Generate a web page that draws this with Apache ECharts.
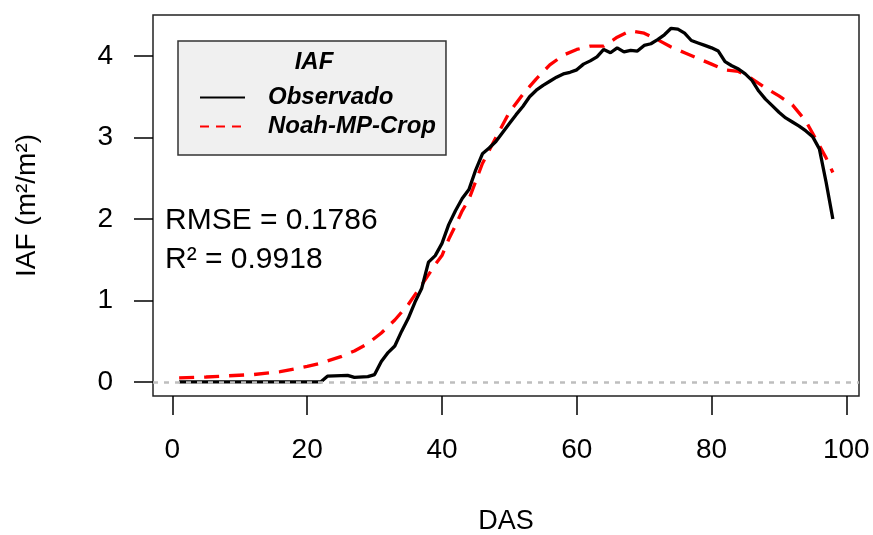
<!DOCTYPE html>
<html>
<head>
<meta charset="utf-8">
<script src="https://cdn.jsdelivr.net/npm/echarts@6/dist/echarts.min.js"></script>
<style>
  html, body { margin: 0; padding: 0; background: #fff; }
  #chart { width: 873px; height: 535px; }
</style>
</head>
<body>
<div id="chart"></div>
<script>
// dias apos semeadura (DAS) e IAF observado
var obs_days = [1, 22, 23, 26, 27, 29, 30, 31, 32, 33, 34, 35, 36, 37, 38, 39, 40, 41, 42, 43, 44, 45, 46, 47, 48, 49,
    50, 51, 52, 53, 54, 55, 56, 57, 58, 59, 60, 61, 62, 63, 64, 65, 66, 67, 68, 69, 70, 71, 72, 73, 74, 75, 76, 77,
    78, 79, 80, 81, 82, 83, 84, 85, 86, 87, 88, 89, 90, 91, 92, 93, 94, 95, 96, 97, 98];
var obs_vals = [0, 0, 0.07, 0.08, 0.055, 0.065, 0.09, 0.25, 0.36, 0.44, 0.62, 0.78, 0.98, 1.15, 1.47, 1.55, 1.7, 1.93,
    2.1, 2.25, 2.36, 2.6, 2.8, 2.87, 2.95, 3.06, 3.17, 3.28, 3.38, 3.5, 3.58, 3.64, 3.69, 3.74, 3.78, 3.8, 3.83, 3.9,
    3.94, 3.99, 4.08, 4.04, 4.1, 4.05, 4.07, 4.06, 4.13, 4.15, 4.2, 4.26, 4.34, 4.33, 4.28, 4.19, 4.16, 4.13, 4.1,
    4.06, 3.93, 3.88, 3.84, 3.78, 3.7, 3.57, 3.47, 3.39, 3.31, 3.24, 3.19, 3.14, 3.08, 3.01, 2.86, 2.45, 2.0];
// Noah-MP-Crop
var sim_days = [1, 5, 8, 12, 16, 20, 22, 25, 27, 29, 31, 32, 33, 35, 37, 39, 40, 41, 42, 43, 44, 46, 48, 50, 52, 54,
    56, 58, 60, 62, 64, 66, 68, 70, 72, 74, 76, 78, 80, 82, 84, 86, 88, 90, 92, 94, 95, 96, 97, 98];
var sim_vals = [0.05, 0.06, 0.074, 0.09, 0.125, 0.19, 0.23, 0.31, 0.38, 0.47, 0.6, 0.68, 0.76, 0.95, 1.19, 1.44, 1.55,
    1.75, 1.92, 2.1, 2.24, 2.68, 3.0, 3.31, 3.53, 3.72, 3.89, 4.01, 4.08, 4.12, 4.12, 4.23, 4.31, 4.28, 4.2, 4.11,
    4.04, 3.97, 3.9, 3.83, 3.81, 3.72, 3.61, 3.51, 3.4, 3.2, 3.05, 2.9, 2.75, 2.57];
var x_ticks = [0, 20, 40, 60, 80, 100];
var y_ticks = [0, 1, 2, 3, 4];

function pairs(xs, ys) {
    var out = [];
    for (var i = 0; i < xs.length; i++) out.push([xs[i], ys[i]]);
    return out;
}

var font = 'Liberation Sans, Arial, Helvetica, sans-serif';
var chart = echarts.init(document.getElementById('chart'), null, {renderer: 'canvas'});

var option = {
    animation: false,
    textStyle: {fontFamily: font, color: '#000'},
    grid: {
        left: 153, top: 15, width: 706, height: 381,
        outerBoundsMode: 'none', containLabel: false,
        show: true, borderColor: '#222', borderWidth: 1.5, backgroundColor: 'transparent'
    },
    xAxis: {
        type: 'value', min: -2.88, max: 101.88,
        name: 'DAS', nameLocation: 'middle', nameGap: 112,
        nameTextStyle: {fontSize: 27, color: '#000', fontFamily: font},
        axisLine: {show: false, onZero: false},
        axisTick: {show: true, inside: false, length: 19, customValues: x_ticks,
            lineStyle: {color: '#000', width: 1.5}},
        axisLabel: {customValues: x_ticks, fontSize: 28, color: '#000', margin: 40, fontFamily: font},
        splitLine: {show: false}
    },
    yAxis: {
        type: 'value', min: -0.173, max: 4.503,
        name: 'IAF (m²/m²)', nameLocation: 'middle', nameGap: 112, nameRotate: 90,
        nameTextStyle: {fontSize: 28, color: '#000', fontFamily: font},
        axisLine: {show: false, onZero: false},
        axisTick: {show: true, inside: false, length: 19, customValues: y_ticks,
            lineStyle: {color: '#000', width: 1.5}},
        axisLabel: {customValues: y_ticks, fontSize: 28, color: '#000', margin: 40, fontFamily: font},
        splitLine: {show: false}
    },
    legend: {
        show: true,
        orient: 'vertical',
        left: 178, top: 41,
        padding: [42, 10, 14, 21],
        itemGap: 0,
        itemWidth: 45, itemHeight: 14,
        itemStyle: {opacity: 0},
        lineStyle: {width: 2},
        backgroundColor: '#f0f0f0', borderColor: '#333', borderWidth: 1.5,
        textStyle: {fontSize: 24, fontWeight: 'bold', fontStyle: 'italic', color: '#000',
            fontFamily: font, lineHeight: 29, padding: [0, 0, 0, 18]},
        data: [
            {name: 'Observado'},
            {name: 'Noah-MP-Crop', lineStyle: {type: [9, 7], width: 2}}
        ]
    },
    graphic: [
        {type: 'text', x: 314, y: 62, z: 100,
            style: {text: 'IAF', font: 'italic bold 24px ' + font, fill: '#000',
                textAlign: 'center', textVerticalAlign: 'middle'}},
        {type: 'text', x: 165, y: 221, z: 100,
            style: {text: 'RMSE = 0.1786', font: '30px ' + font, fill: '#000',
                textAlign: 'left', textVerticalAlign: 'middle'}},
        {type: 'text', x: 165, y: 260, z: 100,
            style: {text: 'R² = 0.9918', font: '30px ' + font, fill: '#000',
                textAlign: 'left', textVerticalAlign: 'middle'}}
    ],
    series: [
        {
            name: 'Observado', type: 'line', symbol: 'none', z: 3,
            lineStyle: {color: '#000', width: 3.3, type: 'solid'},
            itemStyle: {color: '#000'},
            data: pairs(obs_days, obs_vals)
        },
        {
            name: 'Noah-MP-Crop', type: 'line', symbol: 'none', z: 2,
            lineStyle: {color: '#ff0000', width: 3.3, type: [15, 10]},
            itemStyle: {color: '#ff0000'},
            data: pairs(sim_days, sim_vals)
        },
        {
            // linha de referencia em zero
            name: 'zero', type: 'line', symbol: 'none', silent: true, z: 4,
            data: [],
            markLine: {
                silent: true, symbol: 'none', label: {show: false},
                lineStyle: {color: '#bebebe', width: 2.5, type: [5, 6]},
                data: [{yAxis: 0}]
            }
        }
    ]
};
chart.setOption(option);
</script>
</body>
</html>
